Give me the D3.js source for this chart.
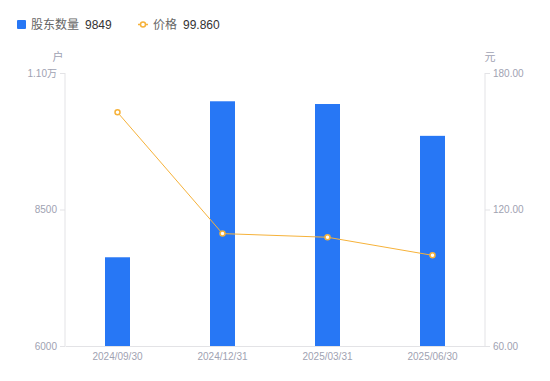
<!DOCTYPE html>
<html>
<head>
<meta charset="utf-8">
<script src="https://cdn.jsdelivr.net/npm/d3@7/dist/d3.min.js"></script>
<style>
  body { margin: 0; background: #fff; }
  svg text { font-family: "Liberation Sans", Arial, "Noto Sans CJK SC", sans-serif; }
</style>
</head>
<body>
<div class="box"></div>
<script>
// Data
const dates = ["2024/09/30", "2024/12/31", "2025/03/31", "2025/06/30"];
const holders = [7625, 10482, 10432, 9849];
const prices = [162.7, 109.4, 107.8, 99.86];
const leftTicks = [6000, 8500, 11000];
const rightTicks = [60, 120, 180];

const w = 550;
const h = 381;
const padL = 65, padR = 485, padT = 73, padB = 346;

const barColor = "#2777f5";
const lineColor = "#f6b23a";
const axisColor = "#e3e3e6";
const labelColor = "#a0a2b2";

const svg = d3.select(".box")
    .append("svg")
    .attr("width", w)
    .attr("height", h);

// Scales
const xScale = d3.scaleBand()
    .domain(dates)
    .range([padL, padR]);

const yLeft = d3.scaleLinear()
    .domain([6000, 11000])
    .range([padB, padT]);

const yRight = d3.scaleLinear()
    .domain([60, 180])
    .range([padB, padT]);

// Axes
const leftAxis = d3.axisLeft(yLeft)
    .tickValues(leftTicks)
    .tickSize(5)
    .tickPadding(3)
    .tickFormat(d => d >= 10000 ? (d / 10000).toFixed(2) + "万" : d);

const rightAxis = d3.axisRight(yRight)
    .tickValues(rightTicks)
    .tickSize(5)
    .tickPadding(3)
    .tickFormat(d => d.toFixed(2));

const bottomAxis = d3.axisBottom(xScale)
    .tickSize(0)
    .tickPadding(7);

function styleAxis(g) {
    g.select(".domain").attr("stroke", axisColor);
    g.selectAll(".tick line").attr("stroke", axisColor);
    g.selectAll(".tick text")
        .attr("fill", labelColor)
        .style("font-size", "10px");
}

svg.append("g")
    .attr("transform", "translate(" + padL + ",0)")
    .call(leftAxis)
    .call(g => g.select(".domain").attr("d", "M0," + padT + "V" + padB))
    .call(styleAxis);

svg.append("g")
    .attr("transform", "translate(" + padR + ",0)")
    .call(rightAxis)
    .call(g => g.select(".domain").attr("d", "M0," + padT + "V" + padB))
    .call(styleAxis);

svg.append("g")
    .attr("transform", "translate(0," + padB + ")")
    .call(bottomAxis)
    .call(styleAxis);

// Unit labels
svg.append("text")
    .attr("x", 58)
    .attr("y", 61)
    .attr("text-anchor", "middle")
    .attr("fill", labelColor)
    .style("font-size", "11px")
    .text("户");

svg.append("text")
    .attr("x", 490)
    .attr("y", 61)
    .attr("text-anchor", "middle")
    .attr("fill", labelColor)
    .style("font-size", "11px")
    .text("元");

// Bars
const barW = 25;
svg.selectAll("rect.bar")
    .data(dates)
    .enter()
    .append("rect")
    .attr("class", "bar")
    .attr("x", d => xScale(d) + xScale.bandwidth() / 2 - barW / 2)
    .attr("y", (d, i) => yLeft(holders[i]))
    .attr("width", barW)
    .attr("height", (d, i) => padB - yLeft(holders[i]))
    .attr("fill", barColor);

// Price line
const line = d3.line()
    .x((d, i) => xScale(dates[i]) + xScale.bandwidth() / 2)
    .y(d => yRight(d));

svg.append("path")
    .datum(prices)
    .attr("d", line)
    .attr("fill", "none")
    .attr("stroke", lineColor)
    .attr("stroke-width", 1);

svg.selectAll("circle.pt")
    .data(prices)
    .enter()
    .append("circle")
    .attr("class", "pt")
    .attr("cx", (d, i) => xScale(dates[i]) + xScale.bandwidth() / 2)
    .attr("cy", d => yRight(d))
    .attr("r", 2.5)
    .attr("fill", "#fff")
    .attr("stroke", lineColor)
    .attr("stroke-width", 1.5);

// Legend
const legend = svg.append("g");
legend.append("rect")
    .attr("x", 17).attr("y", 20)
    .attr("width", 9).attr("height", 9)
    .attr("rx", 1)
    .attr("fill", barColor);
legend.append("text")
    .attr("x", 31).attr("y", 29)
    .attr("fill", "#666")
    .style("font-size", "12px")
    .text("股东数量");
legend.append("text")
    .attr("x", 85).attr("y", 29)
    .attr("fill", "#333")
    .style("font-size", "12px")
    .text(holders[holders.length - 1]);

legend.append("line")
    .attr("x1", 138).attr("x2", 148)
    .attr("y1", 24.5).attr("y2", 24.5)
    .attr("stroke", lineColor)
    .attr("stroke-width", 1.5);
legend.append("circle")
    .attr("cx", 143).attr("cy", 24.5)
    .attr("r", 2.5)
    .attr("fill", "#fff")
    .attr("stroke", lineColor)
    .attr("stroke-width", 1.5);
legend.append("text")
    .attr("x", 153).attr("y", 29)
    .attr("fill", "#666")
    .style("font-size", "12px")
    .text("价格");
legend.append("text")
    .attr("x", 183).attr("y", 29)
    .attr("fill", "#333")
    .style("font-size", "12px")
    .text(prices[prices.length - 1].toFixed(3));
</script>
</body>
</html>
